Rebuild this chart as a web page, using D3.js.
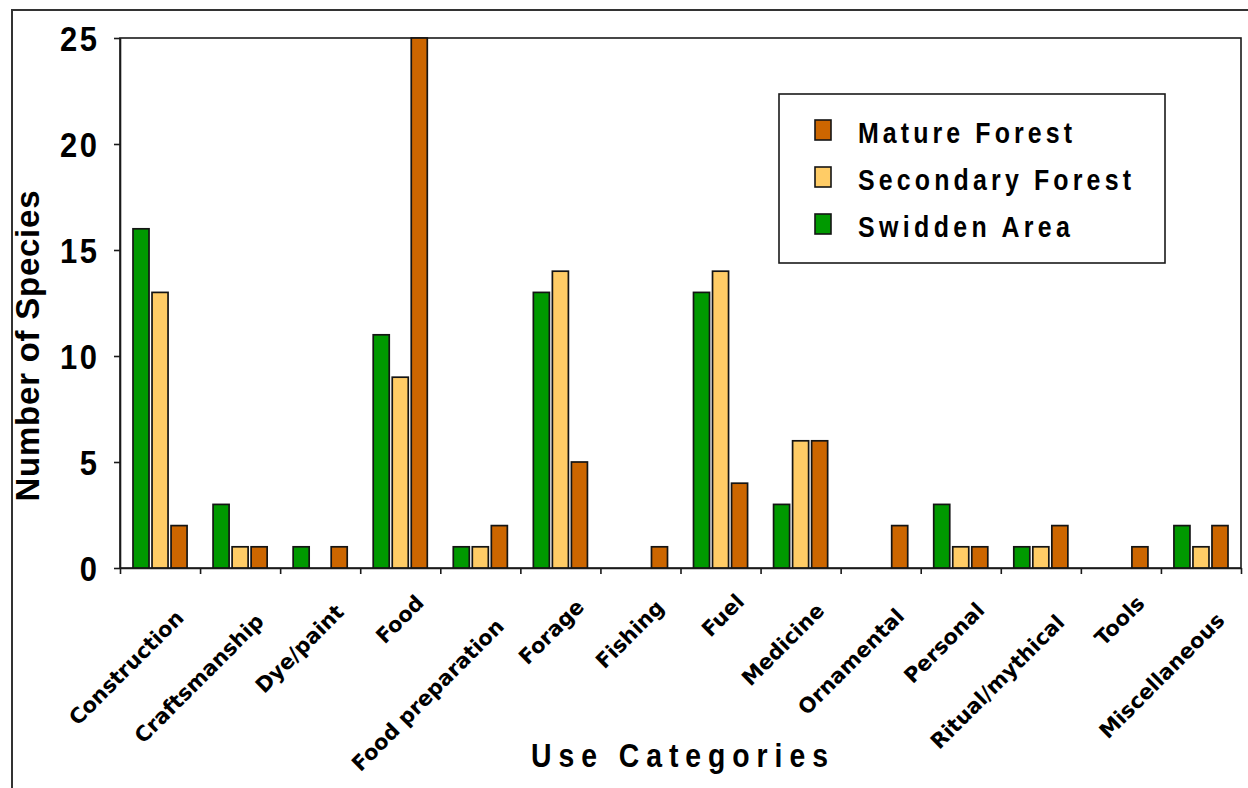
<!DOCTYPE html>
<html>
<head>
<meta charset="utf-8">
<script src="https://cdn.jsdelivr.net/npm/d3@7"></script>
<style>
  html, body { margin: 0; padding: 0; background: #fff; }
  svg { display: block; }
</style>
</head>
<body>
<svg id="chart" width="1248" height="788"></svg>
<script>
// Plant species per use category in three land-use types
const categories = ["Construction", "Craftsmanship", "Dye/paint", "Food", "Food preparation",
  "Forage", "Fishing", "Fuel", "Medicine", "Ornamental", "Personal", "Ritual/mythical",
  "Tools", "Miscellaneous"];
const swiddenArea     = [16, 3, 1, 11, 1, 13, 0, 13, 3, 0, 3, 1, 0, 2];
const secondaryForest = [13, 1, 0,  9, 1, 14, 0, 14, 6, 0, 1, 1, 0, 1];
const matureForest    = [ 2, 1, 1, 25, 2,  5, 1,  4, 6, 2, 1, 2, 1, 2];
const yTicks = [0, 5, 10, 15, 20, 25];
const seriesNames = ["Mature Forest", "Secondary Forest", "Swidden Area"];

const colors = {
  "Swidden Area": "#009900",
  "Secondary Forest": "#FFCC66",
  "Mature Forest": "#CC6600"
};
const barOrder = ["Swidden Area", "Secondary Forest", "Mature Forest"];
const seriesValues = {
  "Swidden Area": swiddenArea,
  "Secondary Forest": secondaryForest,
  "Mature Forest": matureForest
};

// condensed bold face: regular sans squeezed horizontally
const sans = "'Liberation Sans', Arial, sans-serif";
const squeeze = 0.86;
const svg = d3.select("#chart");

// outer frame
svg.append("rect")
  .attr("x", 12).attr("y", 10).attr("width", 1260).attr("height", 820)
  .attr("fill", "none").attr("stroke", "#333").attr("stroke-width", 2);

const plot = { left: 120, right: 1241, top: 38, bottom: 568 };

const x = d3.scaleBand().domain(categories).range([plot.left, plot.right]).padding(0);
const x1 = d3.scaleBand().domain(barOrder).range([11.5, x.bandwidth() - 11.5]).padding(0);
const y = d3.scaleLinear().domain([0, 25]).range([plot.bottom, plot.top]);

// plot area border
svg.append("rect")
  .attr("x", plot.left).attr("y", plot.top)
  .attr("width", plot.right - plot.left).attr("height", plot.bottom - plot.top)
  .attr("fill", "none").attr("stroke", "#1a1a1a").attr("stroke-width", 1.6);

// bars
const rows = categories.map((c, i) => ({
  cat: c,
  bars: barOrder.map(s => ({ series: s, value: seriesValues[s][i] }))
}));

const groups = svg.append("g").selectAll("g").data(rows).join("g")
  .attr("transform", d => `translate(${x(d.cat)},0)`);

groups.selectAll("rect").data(d => d.bars.filter(b => b.value > 0)).join("rect")
  .attr("x", d => x1(d.series) + 1.5)
  .attr("width", x1.bandwidth() - 3)
  .attr("y", d => y(d.value))
  .attr("height", d => y(0) - y(d.value))
  .attr("fill", d => colors[d.series])
  .attr("stroke", "#141414")
  .attr("stroke-width", 1.7);

// y axis
const yAxis = svg.append("g")
  .attr("transform", `translate(${plot.left},0)`)
  .call(d3.axisLeft(y).tickValues(yTicks).tickSize(6).tickSizeOuter(0).tickPadding(17));
yAxis.select(".domain").attr("stroke", "#1a1a1a").attr("stroke-width", 1.6);
yAxis.selectAll(".tick line").attr("stroke", "#1a1a1a").attr("stroke-width", 1.6);
yAxis.selectAll(".tick text")
  .attr("font-family", sans).attr("font-weight", "bold").attr("font-size", 36)
  .attr("fill", "#000").attr("dy", "0.36em")
  .attr("x", -23 / squeeze)
  .attr("transform", `scale(${squeeze},1)`)
  .each(function(d) {
    if (String(d).length > 1) d3.select(this).attr("textLength", 37 / squeeze).attr("lengthAdjust", "spacing");
  });

// x axis: tick marks at category boundaries
const xEdge = d3.scaleLinear().domain([0, categories.length]).range([plot.left, plot.right]);
const xAxis = svg.append("g")
  .attr("transform", `translate(0,${plot.bottom})`)
  .call(d3.axisBottom(xEdge).tickValues(d3.range(0, categories.length + 1))
    .tickSize(6).tickSizeOuter(0).tickFormat(""));
xAxis.select(".domain").attr("stroke", "#1a1a1a").attr("stroke-width", 1.6);
xAxis.selectAll(".tick line").attr("stroke", "#1a1a1a").attr("stroke-width", 1.6);

// category labels, rotated
const labels = svg.append("g").selectAll("text").data(categories).join("text")
  .attr("font-family", "'DejaVu Sans', Verdana, sans-serif")
  .attr("font-weight", "bold").attr("font-size", 21).attr("fill", "#000")
  .attr("text-anchor", "end")
  .text(d => d);
labels.each(function(d) {
  const L = this.getComputedTextLength();
  const ax = x(d) + x.bandwidth() / 2 + 25;
  const ay = 595 + 0.16 * L;
  d3.select(this).attr("transform", `translate(${ax},${ay}) rotate(-45)`);
});

// axis titles
svg.append("text")
  .attr("transform", `translate(39,346) rotate(-90)`)
  .attr("text-anchor", "middle")
  .attr("font-family", sans)
  .attr("font-weight", "bold").attr("font-size", 33)
  .attr("textLength", 311).attr("lengthAdjust", "spacing")
  .text("Number of Species");

svg.append("text")
  .attr("transform", `translate(531,767) scale(${squeeze},1)`)
  .attr("font-family", sans).attr("font-weight", "bold").attr("font-size", 33)
  .attr("textLength", 297 / squeeze).attr("lengthAdjust", "spacing")
  .text("Use Categories");

// legend
const legend = svg.append("g");
legend.append("rect")
  .attr("x", 779).attr("y", 94).attr("width", 386).attr("height", 169)
  .attr("fill", "#fff").attr("stroke", "#1a1a1a").attr("stroke-width", 1.6);
const legendWidths = [214, 273, 212];
const items = legend.selectAll("g.item").data(seriesNames).join("g")
  .attr("class", "item")
  .attr("transform", (d, i) => `translate(0,${i * 47})`);
items.append("rect")
  .attr("x", 815).attr("y", 120).attr("width", 16).attr("height", 20)
  .attr("fill", d => colors[d]).attr("stroke", "#141414").attr("stroke-width", 1.6);
items.append("text")
  .attr("transform", `translate(858,143) scale(${squeeze},1)`)
  .attr("font-family", sans).attr("font-weight", "bold").attr("font-size", 29)
  .attr("textLength", (d, i) => legendWidths[i] / squeeze).attr("lengthAdjust", "spacing")
  .text(d => d);
</script>
</body>
</html>
